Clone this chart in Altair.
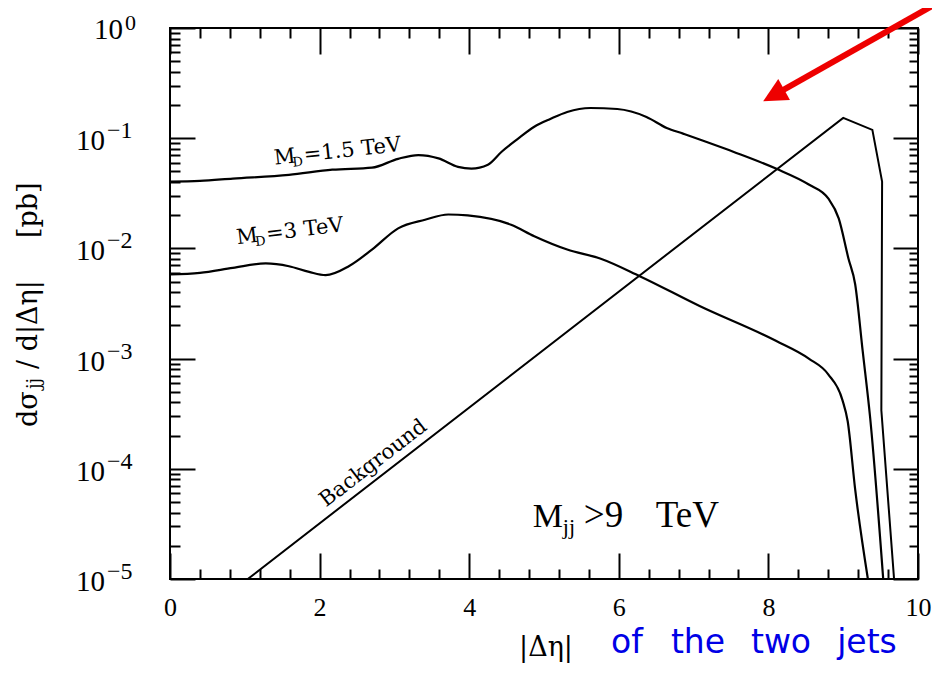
import altair as alt
import pandas as pd

# ---------------- data ----------------
x_md15 = [0, 0.40, 0.84, 1.59, 2.17, 2.70, 3.05, 3.32, 3.59, 3.85, 4.03, 4.25, 4.43, 4.65,
          4.87, 5.09, 5.31, 5.62, 5.98, 6.37, 6.64, 6.86, 7.53, 8.10, 8.54, 8.80, 8.94,
          9.07, 9.16, 9.26, 9.36, 9.535]
y_md15 = [0.0404, 0.041, 0.043, 0.0464, 0.0518, 0.054, 0.065, 0.0703, 0.0656, 0.055, 0.053,
          0.0575, 0.075, 0.0986, 0.127, 0.150, 0.173, 0.188, 0.184, 0.156, 0.124, 0.110,
          0.0754, 0.053, 0.038, 0.0284, 0.0187, 0.0081, 0.00473, 0.00118, 0.000292, 0.00001]

x_md3 = [0, 0.40, 0.84, 1.28, 1.59, 1.86, 2.08, 2.39, 2.70, 3.05, 3.41, 3.72, 3.98, 4.56,
         4.87, 5.31, 5.75, 6.28, 7.08, 8.10, 8.54, 8.80, 8.99, 9.06, 9.16, 9.33]
y_md3 = [0.0058, 0.0060, 0.00665, 0.0073, 0.00689, 0.00612, 0.00572, 0.00689, 0.00975,
         0.0152, 0.0182, 0.0203, 0.0199, 0.0164, 0.0129, 0.00977, 0.0081, 0.0056, 0.0030,
         0.00145, 0.0010, 0.00072, 0.00042, 0.00027, 0.000065, 0.00001]

x_bg = [1.04, 9.00, 9.39, 9.52, 9.51, 9.68]
y_bg = [0.00001, 0.153, 0.119, 0.0404, 0.00034, 0.00001]

series_names = ["MD=1.5 TeV", "MD=3 TeV", "Background"]

x_major = [0, 2, 4, 6, 8, 10]
x_minor = [0.4, 0.8, 1.2, 1.6, 2.4, 2.8, 3.2, 3.6, 4.4, 4.8, 5.2, 5.6,
           6.4, 6.8, 7.2, 7.6, 8.4, 8.8, 9.2, 9.6]
y_major = [1, 0.1, 0.01, 0.001, 0.0001, 0.00001]
y_minor = [k * 10.0 ** d for d in range(-5, 0) for k in range(2, 10)]
y_mantissa = "10"
y_exponents = ["0", "−1", "−2", "−3", "−4", "−5"]

# arrow (data coordinates): tail, head
arrow_x = [10.30, 8.07]
arrow_y = [1.75, 0.245]

W, H = 748, 551
LSERIF = "Liberation Serif"
DSERIF = "DejaVu Serif"
SANS = "DejaVu Sans"

xs = alt.Scale(domain=[0, 10], nice=False, zero=False)
ys = alt.Scale(type="log", domain=[1e-5, 1], nice=False)


def frame(names, xlists, ylists):
    rows = []
    for name, xv, yv in zip(names, xlists, ylists):
        for i, (a, b) in enumerate(zip(xv, yv)):
            rows.append({"series": name, "i": i, "x": a, "y": b})
    return pd.DataFrame(rows)


df_sig = frame(series_names[:2], [x_md15, x_md3], [y_md15, y_md3])
df_bg = frame(series_names[2:], [x_bg], [y_bg])

layers = []

sig = alt.Chart(df_sig).mark_line(color="black", strokeWidth=2.2, clip=True,
                                  interpolate="monotone").encode(
    x=alt.X("x:Q", scale=xs, axis=alt.Axis(
        orient="bottom", values=x_major, format="d", labelFont=LSERIF, labelFontSize=26,
        labelColor="black", labelPadding=15, labelFlush=False, labelOverlap=False,
        ticks=False, domain=False, grid=False, title=None)),
    y=alt.Y("y:Q", scale=ys, axis=None),
    detail="series:N",
    order="i:Q",
)
layers.append(sig)

bg = alt.Chart(df_bg).mark_line(color="black", strokeWidth=2, clip=True).encode(
    x=alt.X("x:Q", scale=xs, axis=None),
    y=alt.Y("y:Q", scale=ys, axis=None),
    detail="series:N",
    order="i:Q",
)
layers.append(bg)


def xticks(values, orient, size):
    return alt.Chart(pd.DataFrame({"x": values})).mark_point(opacity=0).encode(
        x=alt.X("x:Q", scale=xs, axis=alt.Axis(
            orient=orient, offset=-H, values=values, tickSize=size, tickWidth=2,
            tickColor="black", labels=False, domain=False, grid=False, title=None)))


def yticks(values, orient, size):
    return alt.Chart(pd.DataFrame({"y": values})).mark_point(opacity=0).encode(
        y=alt.Y("y:Q", scale=ys, axis=alt.Axis(
            orient=orient, offset=-W, values=values, tickSize=size, tickWidth=2,
            tickColor="black", labels=False, domain=False, grid=False, title=None)))


layers += [
    xticks(x_major, "top", 26), xticks(x_minor, "top", 10),
    xticks(x_major, "bottom", 26), xticks(x_minor, "bottom", 10),
    yticks(y_major, "right", 25), yticks(y_minor, "right", 10),
    yticks(y_major, "left", 25), yticks(y_minor, "left", 9),
]

# y tick labels as 10^k
ylab = pd.DataFrame({"y": y_major, "e": y_exponents})
layers.append(alt.Chart(ylab.iloc[:1]).mark_text(
    text=y_mantissa, align="right", baseline="middle", dy=2, fontSize=29, font=LSERIF,
    color="black").encode(y=alt.Y("y:Q", scale=ys, axis=None), x=alt.value(-47)))
layers.append(alt.Chart(ylab.iloc[1:]).mark_text(
    text=y_mantissa, align="right", baseline="middle", dy=3, fontSize=29, font=LSERIF,
    color="black").encode(y=alt.Y("y:Q", scale=ys, axis=None), x=alt.value(-65)))
layers.append(alt.Chart(ylab.iloc[:1]).mark_text(
    align="left", baseline="middle", dy=-5, fontSize=22, font=LSERIF,
    color="black").encode(y=alt.Y("y:Q", scale=ys, axis=None), x=alt.value(-45),
                          text="e:N"))
layers.append(alt.Chart(ylab.iloc[1:]).mark_text(
    align="left", baseline="middle", dy=-7, fontSize=24, font=LSERIF,
    color="black").encode(y=alt.Y("y:Q", scale=ys, axis=None), x=alt.value(-63),
                          text="e:N"))


def dtext(text, x, y, size, font, angle=0, dx=0, dy=0, align="left",
          baseline="alphabetic", color="black", weight="normal"):
    d = pd.DataFrame({"x": [x], "y": [y], "t": [text]})
    return alt.Chart(d).mark_text(
        align=align, baseline=baseline, angle=angle, dx=dx, dy=dy, fontSize=size,
        font=font, color=color, fontWeight=weight, clip=False).encode(
        x=alt.X("x:Q", scale=xs, axis=None), y=alt.Y("y:Q", scale=ys, axis=None),
        text="t:N")


def ptext(text, px, py, size, font, angle=0, dx=0, dy=0, align="left",
          baseline="alphabetic", color="black", weight="normal"):
    d = pd.DataFrame({"t": [text]})
    return alt.Chart(d).mark_text(
        align=align, baseline=baseline, angle=angle, dx=dx, dy=dy, fontSize=size,
        font=font, color=color, fontWeight=weight).encode(
        x=alt.value(px), y=alt.value(py), text="t:N")


# curve labels
a1 = 353.8
layers += [
    dtext("M", 1.40, 0.0575, 21, DSERIF, angle=a1),
    dtext("D", 1.40, 0.0575, 13, DSERIF, angle=a1, dx=18, dy=4),
    dtext("=1.5  TeV", 1.40, 0.0575, 21, DSERIF, angle=a1, dx=30),
]
a2 = 353
layers += [
    dtext("M", 0.90, 0.01089, 21, DSERIF, angle=a2),
    dtext("D", 0.90, 0.01089, 13, DSERIF, angle=a2, dx=18, dy=4),
    dtext("=3  TeV", 0.90, 0.01089, 21, DSERIF, angle=a2, dx=30),
]
layers.append(dtext("Background", 2.72, 0.000112, 21, DSERIF, angle=322.3,
                    align="center", baseline="middle"))

# M_jj > 9 TeV
layers += [
    dtext("M", 4.85, 0.0000296, 34, LSERIF),
    dtext("jj", 4.85, 0.0000296, 22, LSERIF, dx=30, dy=7),
    dtext(">9", 4.85, 0.0000296, 37, LSERIF, dx=51),
    dtext("TeV", 4.85, 0.0000296, 37, LSERIF, dx=123),
]

# y axis title
layers += [
    ptext("dσ", -133, 399, 27, DSERIF, angle=270),
    ptext("jj", -133, 399, 18, DSERIF, angle=270, dx=38, dy=3),
    ptext("/ d|Δη|", -133, 399, 27, DSERIF, angle=270, dx=58),
    ptext("[pb]", -133, 399, 27, DSERIF, angle=270, dx=189),
]

# x axis title
layers.append(ptext("|Δη|", 376, 628, 27, DSERIF, align="center"))
blue_words = ["of", "the", "two", "jets"]
blue_centers = [457, 528, 611, 697]
for w, cx in zip(blue_words, blue_centers):
    layers.append(ptext(w, cx, 625, 33, SANS, align="center", color="#0000e6"))

# red arrow
arr = pd.DataFrame({"x": [arrow_x[0]], "y": [arrow_y[0]], "x2": [arrow_x[1]],
                    "y2": [arrow_y[1]]})
layers.append(alt.Chart(arr).mark_rule(color="#ee0000", strokeWidth=6, clip=False).encode(
    x=alt.X("x:Q", scale=xs, axis=None), y=alt.Y("y:Q", scale=ys, axis=None),
    x2="x2:Q", y2="y2:Q"))
head = pd.DataFrame({"x": [arrow_x[1]], "y": [arrow_y[1]]})
layers.append(alt.Chart(head).mark_point(
    shape="M0,-1L1,1L-1,1Z", size=576, angle=240.8, filled=True, color="#ee0000",
    opacity=1, strokeWidth=0, clip=False).encode(
    x=alt.X("x:Q", scale=xs, axis=None), y=alt.Y("y:Q", scale=ys, axis=None)))

chart = alt.layer(*layers).properties(
    width=W, height=H,
    autosize=alt.AutoSizeParams(type="none"),
    padding={"left": 162, "top": 20, "right": 14, "bottom": 87},
    background="white",
).resolve_axis(x="independent", y="independent").configure_view(
    stroke="black", strokeWidth=2)

chart.save("out.html", embed_options={"renderer": "svg", "actions": False})
